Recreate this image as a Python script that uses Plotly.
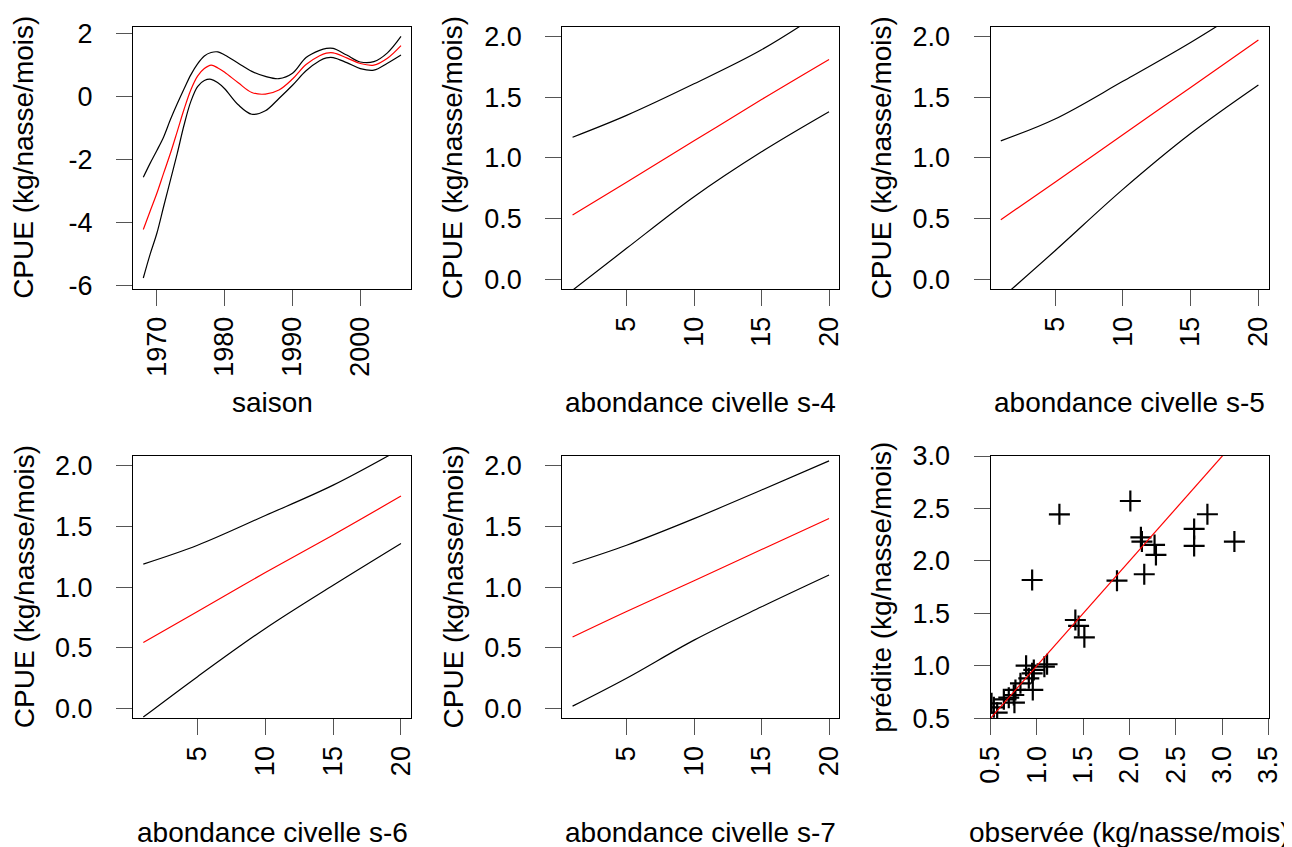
import plotly.graph_objects as go
from plotly.subplots import make_subplots

# panel 1 : effet saison
annees = [1968, 1969, 1970, 1971, 1972, 1973, 1974, 1975, 1976, 1977, 1978, 1979, 1980,
          1982, 1984, 1986, 1988, 1990, 1992, 1994, 1995, 1996, 1998, 2000, 2002, 2004, 2006]
saison_haut = [-2.55, -2.11, -1.70, -1.27, -0.72, -0.22, 0.25, 0.70, 1.05, 1.30, 1.41, 1.43, 1.33,
               1.07, 0.81, 0.65, 0.58, 0.75, 1.25, 1.48, 1.54, 1.54, 1.33, 1.11, 1.12, 1.40, 1.92]
saison_fit = [-4.21, -3.63, -3.06, -2.42, -1.79, -1.10, -0.40, 0.22, 0.66, 0.90, 1.01, 0.92, 0.78,
              0.45, 0.14, 0.09, 0.22, 0.57, 1.03, 1.31, 1.39, 1.40, 1.24, 1.06, 1.01, 1.23, 1.63]
saison_bas = [-5.75, -5.00, -4.33, -3.48, -2.64, -1.80, -0.90, -0.15, 0.33, 0.52, 0.56, 0.45, 0.26,
              -0.25, -0.55, -0.44, -0.05, 0.37, 0.83, 1.15, 1.24, 1.25, 1.09, 0.90, 0.85, 1.07, 1.33]
saison_yticks = [-6, -4, -2, 0, 2]
saison_yticktext = ['-6', '-4', '-2', '0', '2']

# panels 2-5 : abondance civelle
abondance = [1, 5, 10, 15, 20]
s4_haut = [1.17, 1.35, 1.61, 1.89, 2.24]
s4_fit = [0.53, 0.80, 1.14, 1.48, 1.81]
s4_bas = [-0.09, 0.255, 0.68, 1.05, 1.38]
s5_haut = [1.14, 1.32, 1.63, 1.95, 2.30]
s5_fit = [0.49, 0.80, 1.19, 1.58, 1.97]
s5_bas = [-0.16, 0.235, 0.74, 1.20, 1.60]
s6_haut = [1.19, 1.345, 1.59, 1.84, 2.14]
s6_fit = [0.545, 0.80, 1.12, 1.43, 1.75]
s6_bas = [-0.07, 0.263, 0.66, 1.016, 1.36]
s7_haut = [1.195, 1.345, 1.564, 1.80, 2.04]
s7_fit = [0.59, 0.80, 1.053, 1.31, 1.565]
s7_bas = [0.02, 0.25, 0.564, 0.838, 1.10]

# panel 6 : observee vs predite
observee = [1.243, 2.008, 0.949, 2.839, 2.696, 2.696, 3.13, 2.122, 2.133, 2.269, 2.284, 2.158,
            1.864, 1.415, 1.45, 1.512, 0.884, 0.967, 0.949, 0.956, 1.110, 1.081, 0.913, 0.823,
            0.769, 0.751, 0.697, 0.644, 0.758, 0.536, 0.572, 0.511]
predite = [2.444, 2.571, 1.818, 2.445, 2.305, 2.143, 2.184, 2.225, 2.184, 2.152, 2.057, 1.873,
           1.812, 1.437, 1.38, 1.272, 1.002, 0.961, 0.929, 0.770, 1.015, 0.992, 0.881, 0.833,
           0.770, 0.722, 0.697, 0.681, 0.649, 0.605, 0.554, 0.643]
bissectrice = [0.5, 3.5]

# la page a une marge de 8 px : la figure commence a (8, 8) dans la fenetre
OFF = 8
W, H = 1292 - OFF, 847 - OFF
FONT = 'Liberation Sans, Arial, sans-serif'

fig = make_subplots(rows=2, cols=3)

def ligne(x, y, couleur, r, c):
    fig.add_trace(go.Scatter(x=x, y=y, mode='lines', line=dict(color=couleur, width=1.2, shape='spline'),
                             showlegend=False, hoverinfo='skip'), row=r, col=c)

ligne(annees, saison_haut, 'black', 1, 1)
ligne(annees, saison_fit, 'red', 1, 1)
ligne(annees, saison_bas, 'black', 1, 1)

panneaux = [((s4_haut, s4_fit, s4_bas), 1, 2), ((s5_haut, s5_fit, s5_bas), 1, 3),
            ((s6_haut, s6_fit, s6_bas), 2, 1), ((s7_haut, s7_fit, s7_bas), 2, 2)]
for (h, f, b), r, c in panneaux:
    ligne(abondance, h, 'black', r, c)
    ligne(abondance, f, 'red', r, c)
    ligne(abondance, b, 'black', r, c)

fig.add_trace(go.Scatter(x=observee, y=predite, mode='markers',
                         marker=dict(symbol='cross-thin', size=15, color='black',
                                     line=dict(color='black', width=2.2)),
                         showlegend=False), row=2, col=3)
fig.add_trace(go.Scatter(x=bissectrice, y=bissectrice, mode='lines',
                         line=dict(color='red', width=1.2), showlegend=False), row=2, col=3)

# boites en pixels de fenetre (gauche, droite, haut, bas)
col_px = [(133, 411.3), (562.3, 839.3), (990.5, 1268.7)]
row_px = [(26.7, 289), (456, 718.3)]

axe = dict(showline=True, linecolor='black', linewidth=1, mirror=True, ticks='outside',
           ticklen=16, tickcolor='#555555', tickwidth=1.2, showgrid=False, zeroline=False,
           tickfont=dict(size=27, color='black', family=FONT), automargin=False)

x_cfg = {
    (1, 1): dict(range=[1966.48, 2007.52], tickvals=[1970, 1980, 1990, 2000]),
    (1, 2): dict(range=[0.24, 20.76], tickvals=[5, 10, 15, 20]),
    (1, 3): dict(range=[0.24, 20.76], tickvals=[5, 10, 15, 20]),
    (2, 1): dict(range=[0.24, 20.76], tickvals=[5, 10, 15, 20]),
    (2, 2): dict(range=[0.24, 20.76], tickvals=[5, 10, 15, 20]),
    (2, 3): dict(range=[0.5, 3.5], tickvals=[0.5, 1.0, 1.5, 2.0, 2.5, 3.0, 3.5], tickformat='.1f'),
}
y_cpue = dict(range=[-0.08, 2.08], tickvals=[0.0, 0.5, 1.0, 1.5, 2.0], tickformat='.1f')
y_cfg = {
    (1, 1): dict(range=[-6.1, 2.23], tickvals=saison_yticks, ticktext=saison_yticktext),
    (1, 2): y_cpue, (1, 3): y_cpue, (2, 1): y_cpue, (2, 2): y_cpue,
    (2, 3): dict(range=[0.5, 3.0], tickvals=[0.5, 1.0, 1.5, 2.0, 2.5, 3.0], tickformat='.1f'),
}
x_titres = {(1, 1): 'saison', (1, 2): 'abondance civelle s-4', (1, 3): 'abondance civelle s-5',
            (2, 1): 'abondance civelle s-6', (2, 2): 'abondance civelle s-7',
            (2, 3): 'observée (kg/nasse/mois)'}
y_titres = {k: 'CPUE (kg/nasse/mois)' for k in x_titres}
y_titres[(2, 3)] = 'prédite (kg/nasse/mois)'

def px(v):
    return v - OFF

annots = []
for r in (1, 2):
    for c in (1, 2, 3):
        x0, x1 = [px(v) for v in col_px[c - 1]]
        y0, y1 = [px(v) for v in row_px[r - 1]]
        fig.update_xaxes(axe, row=r, col=c)
        fig.update_xaxes(x_cfg[(r, c)], domain=[x0 / W, x1 / W], tickangle=-90,
                         ticklabelstandoff=0, row=r, col=c)
        fig.update_yaxes(axe, row=r, col=c)
        fig.update_yaxes(y_cfg[(r, c)], domain=[1 - y1 / H, 1 - y0 / H],
                         ticklabelstandoff=18, row=r, col=c)
        annots.append(dict(text=x_titres[(r, c)], x=(x0 + x1) / 2 / W, y=1 - (y0 + 376) / H,
                           xref='paper', yref='paper', showarrow=False,
                           xanchor='center', yanchor='middle',
                           font=dict(size=28, color='black', family=FONT)))
        annots.append(dict(text=y_titres[(r, c)], x=(x0 - 109) / W, y=1 - (y0 + y1) / 2 / H,
                           xref='paper', yref='paper', showarrow=False, textangle=-90,
                           xanchor='center', yanchor='middle',
                           font=dict(size=28, color='black', family=FONT)))

fig.update_layout(
    width=W, height=H,
    margin=dict(l=0, r=0, t=0, b=0),
    plot_bgcolor='white', paper_bgcolor='white',
    annotations=annots,
    font=dict(family=FONT, color='black'),
)

fig.write_html("out.html")
